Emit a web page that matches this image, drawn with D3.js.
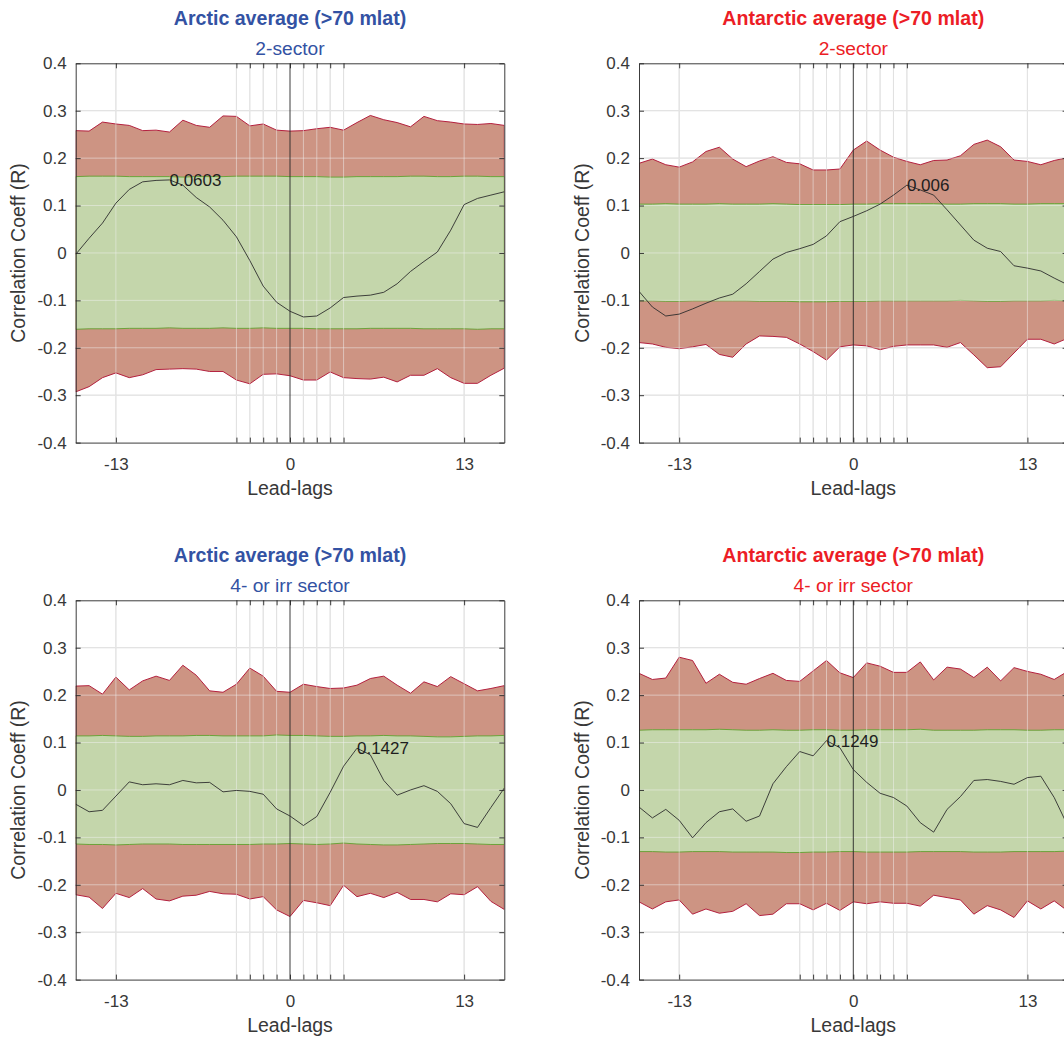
<!DOCTYPE html>
<html><head><meta charset="utf-8">
<script src="https://cdn.jsdelivr.net/npm/d3@7/dist/d3.min.js"></script>
<style>
body{margin:0;background:#fff;}
svg{display:block;font-family:"Liberation Sans",Arial,Helvetica,sans-serif;}
</style>
</head><body>
<svg id="chart" width="1064" height="1039"></svg>
<script>
// ---------- data ----------
const lags = [-16,-15,-14,-13,-12,-11,-10,-9,-8,-7,-6,-5,-4,-3,-2,-1,0,1,2,3,4,5,6,7,8,9,10,11,12,13,14,15,16];

const xTickValues = [-13,-4,-3,-2,-1,0,1,2,3,4,13];
const xTickLabels = ["-13","","","","","0","","","","","13"];
const yTickValues = [-0.4,-0.3,-0.2,-0.1,0,0.1,0.2,0.3,0.4];
const yTickLabels = ["-0.4","-0.3","-0.2","-0.1","0","0.1","0.2","0.3","0.4"];

const titles = ["Arctic average (>70 mlat)","Antarctic average (>70 mlat)","Arctic average (>70 mlat)","Antarctic average (>70 mlat)"];
const subtitles = ["2-sector","2-sector","4- or irr sector","4- or irr sector"];
const annotations = ["0.0603","0.006","0.1427","0.1249"];
const annotationLags = [-9,4,5,-2];
const xLabel = "Lead-lags";
const yLabel = "Correlation Coeff (R)";

// Arctic 2-sector
const tlRedUpper = [0.258,0.257,0.276,0.272,0.269,0.258,0.259,0.255,0.280,0.269,0.265,0.289,0.288,0.268,0.272,0.259,0.257,0.258,0.262,0.265,0.259,0.275,0.290,0.281,0.275,0.266,0.288,0.279,0.276,0.272,0.271,0.273,0.269];
const tlRedLower = [-0.293,-0.282,-0.263,-0.253,-0.263,-0.257,-0.246,-0.245,-0.244,-0.245,-0.250,-0.250,-0.268,-0.276,-0.256,-0.255,-0.259,-0.268,-0.268,-0.251,-0.263,-0.265,-0.266,-0.262,-0.272,-0.258,-0.258,-0.244,-0.263,-0.275,-0.275,-0.258,-0.243];
const tlGreenUpper = [0.161,0.162,0.162,0.162,0.161,0.161,0.161,0.161,0.160,0.161,0.161,0.161,0.162,0.162,0.162,0.162,0.161,0.161,0.161,0.160,0.160,0.161,0.161,0.161,0.161,0.162,0.162,0.161,0.161,0.162,0.162,0.161,0.161];
const tlGreenLower = [-0.161,-0.160,-0.160,-0.160,-0.159,-0.159,-0.159,-0.158,-0.159,-0.159,-0.159,-0.158,-0.159,-0.159,-0.158,-0.159,-0.159,-0.159,-0.160,-0.160,-0.160,-0.160,-0.159,-0.159,-0.159,-0.159,-0.160,-0.160,-0.160,-0.160,-0.161,-0.160,-0.160];
const tlCorr = [-0.003,0.031,0.063,0.105,0.134,0.150,0.153,0.154,0.143,0.117,0.097,0.069,0.034,-0.016,-0.070,-0.104,-0.123,-0.135,-0.133,-0.116,-0.094,-0.091,-0.089,-0.083,-0.065,-0.039,-0.018,0.002,0.048,0.102,0.115,0.122,0.129];

// Antarctic 2-sector
const trRedUpper = [0.189,0.198,0.186,0.181,0.192,0.214,0.223,0.198,0.182,0.194,0.203,0.191,0.188,0.175,0.175,0.177,0.217,0.236,0.217,0.202,0.193,0.186,0.195,0.196,0.205,0.229,0.238,0.224,0.196,0.193,0.186,0.195,0.201];
const trRedLower = [-0.189,-0.192,-0.199,-0.202,-0.198,-0.193,-0.214,-0.220,-0.192,-0.175,-0.176,-0.178,-0.192,-0.208,-0.226,-0.198,-0.194,-0.196,-0.204,-0.197,-0.194,-0.194,-0.194,-0.199,-0.189,-0.215,-0.242,-0.240,-0.211,-0.182,-0.182,-0.192,-0.180];
const trGreenUpper = [0.103,0.103,0.104,0.103,0.103,0.103,0.104,0.103,0.103,0.103,0.104,0.103,0.102,0.102,0.102,0.102,0.103,0.103,0.104,0.104,0.104,0.104,0.104,0.103,0.103,0.104,0.104,0.104,0.103,0.103,0.104,0.104,0.104];
const trGreenLower = [-0.101,-0.101,-0.102,-0.102,-0.101,-0.101,-0.101,-0.101,-0.101,-0.102,-0.102,-0.102,-0.103,-0.103,-0.103,-0.102,-0.102,-0.102,-0.101,-0.101,-0.101,-0.101,-0.101,-0.101,-0.100,-0.101,-0.102,-0.102,-0.101,-0.101,-0.101,-0.100,-0.101];
const trCorr = [-0.081,-0.114,-0.133,-0.129,-0.118,-0.106,-0.095,-0.087,-0.065,-0.039,-0.013,0.001,0.009,0.018,0.036,0.066,0.077,0.089,0.103,0.122,0.143,0.133,0.122,0.091,0.059,0.027,0.010,0.003,-0.027,-0.032,-0.038,-0.053,-0.067];

// Arctic 4- or irr sector
const blRedUpper = [0.219,0.220,0.202,0.238,0.211,0.230,0.240,0.231,0.263,0.242,0.209,0.206,0.223,0.257,0.240,0.208,0.206,0.223,0.218,0.214,0.215,0.221,0.235,0.240,0.221,0.204,0.228,0.218,0.239,0.224,0.209,0.214,0.220];
const blRedLower = [-0.221,-0.226,-0.250,-0.218,-0.227,-0.208,-0.230,-0.234,-0.224,-0.222,-0.214,-0.219,-0.220,-0.230,-0.225,-0.253,-0.267,-0.233,-0.238,-0.244,-0.201,-0.225,-0.218,-0.227,-0.216,-0.231,-0.231,-0.236,-0.219,-0.221,-0.204,-0.235,-0.252];
const blGreenUpper = [0.114,0.114,0.115,0.114,0.113,0.113,0.114,0.114,0.114,0.115,0.115,0.114,0.114,0.114,0.114,0.116,0.115,0.115,0.114,0.113,0.113,0.114,0.114,0.115,0.114,0.114,0.113,0.112,0.112,0.113,0.114,0.114,0.115];
const blGreenLower = [-0.114,-0.115,-0.115,-0.116,-0.115,-0.114,-0.114,-0.114,-0.115,-0.115,-0.115,-0.115,-0.115,-0.115,-0.114,-0.114,-0.113,-0.114,-0.115,-0.114,-0.112,-0.114,-0.115,-0.116,-0.116,-0.115,-0.114,-0.113,-0.113,-0.113,-0.114,-0.115,-0.115];
const blCorr = [-0.030,-0.046,-0.043,-0.013,0.017,0.011,0.013,0.011,0.020,0.015,0.016,-0.004,-0.001,-0.003,-0.009,-0.040,-0.055,-0.075,-0.056,-0.005,0.050,0.088,0.074,0.020,-0.011,0.000,0.009,-0.003,-0.029,-0.071,-0.079,-0.037,0.004];

// Antarctic 4- or irr sector
const brRedUpper = [0.246,0.233,0.236,0.280,0.273,0.225,0.244,0.227,0.223,0.235,0.246,0.231,0.229,0.251,0.273,0.247,0.237,0.268,0.261,0.248,0.248,0.270,0.232,0.259,0.255,0.237,0.259,0.230,0.258,0.250,0.244,0.233,0.250];
const brRedLower = [-0.236,-0.251,-0.236,-0.232,-0.262,-0.251,-0.260,-0.256,-0.240,-0.265,-0.262,-0.240,-0.240,-0.253,-0.239,-0.254,-0.236,-0.240,-0.236,-0.239,-0.239,-0.245,-0.222,-0.227,-0.232,-0.262,-0.244,-0.253,-0.269,-0.234,-0.251,-0.234,-0.255];
const brGreenUpper = [0.126,0.127,0.127,0.127,0.127,0.127,0.128,0.127,0.126,0.126,0.127,0.126,0.126,0.127,0.127,0.126,0.126,0.127,0.127,0.127,0.127,0.128,0.126,0.126,0.126,0.126,0.127,0.127,0.127,0.126,0.126,0.127,0.127];
const brGreenLower = [-0.130,-0.130,-0.131,-0.131,-0.130,-0.130,-0.130,-0.131,-0.131,-0.131,-0.131,-0.132,-0.132,-0.131,-0.131,-0.130,-0.130,-0.131,-0.131,-0.131,-0.131,-0.130,-0.130,-0.130,-0.130,-0.131,-0.131,-0.131,-0.130,-0.130,-0.130,-0.130,-0.129];
const brCorr = [-0.036,-0.059,-0.041,-0.064,-0.101,-0.069,-0.046,-0.040,-0.066,-0.055,0.013,0.049,0.081,0.072,0.104,0.089,0.043,0.016,-0.007,-0.016,-0.034,-0.069,-0.089,-0.041,-0.014,0.020,0.022,0.018,0.012,0.026,0.029,-0.016,-0.075];

// ---------- layout / style ----------
const W = 428.6, H = 379.3;
const panels = [
  {x0:75.7, y0:63.3, redU:tlRedUpper, redL:tlRedLower, grU:tlGreenUpper, grL:tlGreenLower, corr:tlCorr, color:"#3352a3"},
  {x0:639.0, y0:63.3, redU:trRedUpper, redL:trRedLower, grU:trGreenUpper, grL:trGreenLower, corr:trCorr, color:"#ec1d25"},
  {x0:75.7, y0:600.3, redU:blRedUpper, redL:blRedLower, grU:blGreenUpper, grL:blGreenLower, corr:blCorr, color:"#3352a3"},
  {x0:639.0, y0:600.3, redU:brRedUpper, redL:brRedLower, grU:brGreenUpper, grL:brGreenLower, corr:brCorr, color:"#ec1d25"}
];

const svg = d3.select("#chart");
svg.append("rect").attr("width",1064).attr("height",1039).attr("fill","#fff");

panels.forEach((p, i) => {
  const x = d3.scaleLinear().domain([-16,16]).range([p.x0, p.x0 + W]);
  const y = d3.scaleLinear().domain([-0.4,0.4]).range([p.y0 + H, p.y0]);
  const g = svg.append("g");
  const clipId = "clip" + i;
  svg.append("clipPath").attr("id", clipId).append("rect")
    .attr("x", p.x0).attr("y", p.y0).attr("width", W).attr("height", H);
  const plot = g.append("g").attr("clip-path", `url(#${clipId})`);

  const gridX = xTickValues.filter(v => v !== 0);
  const gridY = yTickValues.filter(v => v > -0.4 && v < 0.4);

  const drawGrid = (layer, stroke, op) => {
    layer.selectAll(null).data(gridX).join("line")
      .attr("x1", d => x(d)).attr("x2", d => x(d))
      .attr("y1", p.y0).attr("y2", p.y0 + H)
      .attr("stroke", stroke).attr("stroke-opacity", op).attr("stroke-width", 1);
    layer.selectAll(null).data(gridY).join("line")
      .attr("x1", p.x0).attr("x2", p.x0 + W)
      .attr("y1", d => y(d)).attr("y2", d => y(d))
      .attr("stroke", stroke).attr("stroke-opacity", op).attr("stroke-width", 1);
  };
  drawGrid(plot.append("g"), "#d2d2d2", 1);

  const rows = lags.map((l, k) => ({lag:l, ru:p.redU[k], rl:p.redL[k], gu:p.grU[k], gl:p.grL[k], c:p.corr[k]}));

  const redArea = d3.area().x(d => x(d.lag)).y0(d => y(d.rl)).y1(d => y(d.ru));
  plot.append("path").datum(rows).attr("d", redArea)
    .attr("fill", "#cd9483").attr("stroke", "#b3203e").attr("stroke-width", 1);

  const greenArea = d3.area().x(d => x(d.lag)).y0(d => y(d.gl)).y1(d => y(d.gu));
  plot.append("path").datum(rows).attr("d", greenArea)
    .attr("fill", "#c4d6ab").attr("stroke", "#6ba33a").attr("stroke-width", 1);

  drawGrid(plot.append("g"), "#f2f2f2", 0.5);

  plot.append("line").attr("x1", x(0)).attr("x2", x(0)).attr("y1", p.y0).attr("y2", p.y0 + H)
    .attr("stroke", "#262626").attr("stroke-width", 0.9);

  const line = d3.line().x(d => x(d.lag)).y(d => y(d.c));
  plot.append("path").datum(rows).attr("d", line)
    .attr("fill", "none").attr("stroke", "#2e2e2e").attr("stroke-width", 0.9);

  const ai = lags.indexOf(annotationLags[i]);
  plot.append("text").attr("x", x(lags[ai])).attr("y", y(p.corr[ai]))
    .attr("dy", "0.35em").attr("font-size", 17).attr("fill", "#1e1e1e")
    .text(annotations[i]);

  const axStyle = sel => {
    sel.select(".domain").attr("stroke", "#262626").attr("stroke-width", 0.9);
    sel.selectAll(".tick line").attr("stroke", "#262626").attr("stroke-width", 0.9);
    sel.selectAll(".tick text").attr("fill", "#383838").attr("font-size", 17)
      .attr("font-family", '"Liberation Sans",Arial,Helvetica,sans-serif');
  };
  g.append("g").attr("transform", `translate(0,${p.y0 + H})`)
    .call(d3.axisBottom(x).tickValues(xTickValues).tickFormat((d, k) => xTickLabels[k])
      .tickSizeInner(-5).tickSizeOuter(0).tickPadding(15.5)).call(axStyle);
  g.append("g").attr("transform", `translate(0,${p.y0})`)
    .call(d3.axisTop(x).tickValues(xTickValues).tickFormat("")
      .tickSizeInner(-5).tickSizeOuter(0)).call(axStyle);
  g.append("g").attr("transform", `translate(${p.x0},0)`)
    .call(d3.axisLeft(y).tickValues(yTickValues).tickFormat((d, k) => yTickLabels[k])
      .tickSizeInner(-5).tickSizeOuter(0).tickPadding(9)).call(axStyle);
  g.append("g").attr("transform", `translate(${p.x0 + W},0)`)
    .call(d3.axisRight(y).tickValues(yTickValues).tickFormat("")
      .tickSizeInner(-5).tickSizeOuter(0)).call(axStyle);

  g.append("text").attr("x", x(0)).attr("y", p.y0 + H + 52.5)
    .attr("text-anchor", "middle").attr("font-size", 19.5).attr("fill", "#383838").text(xLabel);
  g.append("text").attr("transform", `translate(${p.x0 - 50.5},${p.y0 + H / 2}) rotate(-90)`)
    .attr("text-anchor", "middle").attr("font-size", 19.5).attr("fill", "#383838").text(yLabel);

  g.append("text").attr("x", x(0)).attr("y", p.y0 - 38.4)
    .attr("text-anchor", "middle").attr("font-size", 19.6).attr("font-weight", "bold")
    .attr("fill", p.color).text(titles[i]);
  g.append("text").attr("x", x(0)).attr("y", p.y0 - 8.8)
    .attr("text-anchor", "middle").attr("font-size", 19.2)
    .attr("fill", p.color).text(subtitles[i]);
});
</script>
</body></html>
